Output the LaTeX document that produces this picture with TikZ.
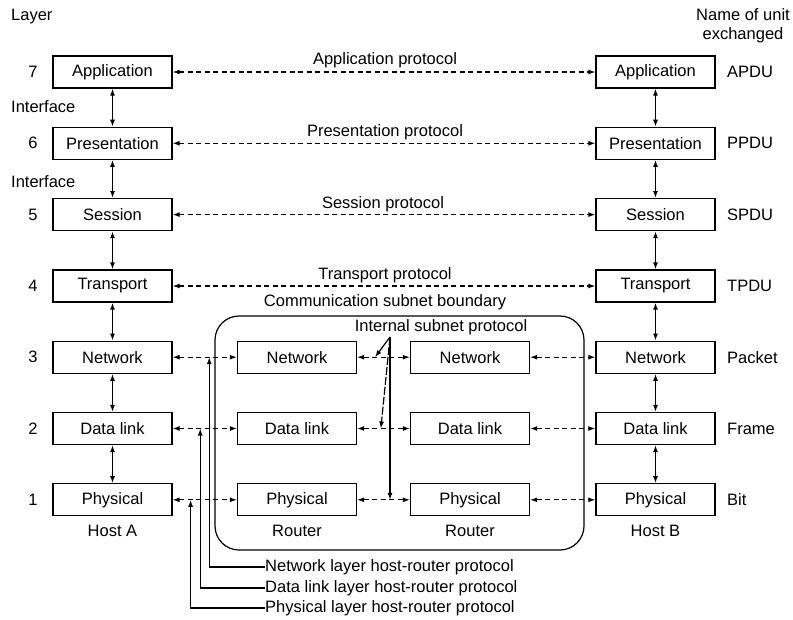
\documentclass[tikz,border=0pt]{standalone}
\usepackage{fontspec}
\setmainfont{Liberation Sans}
\usetikzlibrary{arrows.meta,calc}
\begin{document}
\begin{tikzpicture}[x=1pt,y=-1pt,
  font=\fontsize{16.5}{19}\selectfont,
  layerbox/.style={draw,line width=1.2pt,minimum width=119pt,minimum height=32pt,inner sep=0pt},
  tip/.style={-{Latex[length=7pt,width=5pt]}},
  dtip/.style={{Latex[length=7pt,width=5pt]}-{Latex[length=7pt,width=5pt]}},
  peer/.style={dtip,line width=1.2pt,dash pattern=on 5pt off 3.5pt},
  iface/.style={dtip,line width=1.5pt},
  lbl/.style={inner sep=0pt}]
\useasboundingbox (0,0) rectangle (793,619);
\def\ya{72}\def\yb{143.3}\def\yc{214.6}\def\yd{286}\def\ye{357.2}\def\yf{428.5}\def\yg{499.8}
% Host A
\node[layerbox] (a7) at (112.5,\ya) {Application};
\node[layerbox] (a6) at (112.5,\yb) {Presentation};
\node[layerbox] (a5) at (112.5,\yc) {Session};
\node[layerbox] (a4) at (112.5,\yd) {Transport};
\node[layerbox] (a3) at (112.5,\ye) {Network};
\node[layerbox] (a2) at (112.5,\yf) {Data link};
\node[layerbox] (a1) at (112.5,\yg) {Physical};
% Host B
\node[layerbox] (b7) at (655.5,\ya) {Application};
\node[layerbox] (b6) at (655.5,\yb) {Presentation};
\node[layerbox] (b5) at (655.5,\yc) {Session};
\node[layerbox] (b4) at (655.5,\yd) {Transport};
\node[layerbox] (b3) at (655.5,\ye) {Network};
\node[layerbox] (b2) at (655.5,\yf) {Data link};
\node[layerbox] (b1) at (655.5,\yg) {Physical};
% Routers
\node[layerbox] (r13) at (297,\ye) {Network};
\node[layerbox] (r12) at (297,\yf) {Data link};
\node[layerbox] (r11) at (297,\yg) {Physical};
\node[layerbox] (r23) at (470,\ye) {Network};
\node[layerbox] (r22) at (470,\yf) {Data link};
\node[layerbox] (r21) at (470,\yg) {Physical};
% subnet boundary
\draw[line width=1.2pt,rounded corners=24pt] (215,316) rectangle (584,550);
\node[lbl] (csb) at (385,302) {Communication subnet boundary};
% labels
\node[lbl,anchor=west] (layer) at (11,17) {Layer};
\node[lbl,align=center] (nou) at (743,26) {Name of unit\\exchanged};
\foreach \n/\y in {7/\ya,6/\yb,5/\yc,4/\yd,3/\ye,2/\yf,1/\yg}
  \node[lbl] (num\n) at (33,\y) {\n};
\node[lbl,anchor=west] (if1) at (11,107) {Interface};
\node[lbl,anchor=west] (if2) at (11,182) {Interface};
\foreach \n/\t/\y in {7/APDU/\ya,6/PPDU/\yb,5/SPDU/\yc,4/TPDU/\yd,3/Packet/\ye,2/Frame/\yf,1/Bit/\yg}
  \node[lbl,anchor=west] (u\n) at (727,\y) {\t};
\node[lbl] (hosta) at (112.5,531) {Host A};
\node[lbl] (hostb) at (655.5,531) {Host B};
\node[lbl] (rt1) at (297,531) {Router};
\node[lbl] (rt2) at (470,531) {Router};
% vertical interfaces
\foreach \u/\l in {7/6,6/5,5/4,4/3,3/2,2/1}{
  \draw[iface] (a\u.south) -- (a\l.north);
  \draw[iface] (b\u.south) -- (b\l.north);
}
% peer protocols
\draw[peer] (a7) -- (b7);
\draw[peer] (a6) -- (b6);
\draw[peer] (a5) -- (b5);
\draw[peer] (a4) -- (b4);
\node[lbl] (ap) at (385,60) {Application protocol};
\node[lbl] (pp) at (385,132) {Presentation protocol};
\node[lbl] (sp) at (383,204) {Session protocol};
\node[lbl] (tp) at (385,275) {Transport protocol};
\foreach \l in {3,2,1}{
  \draw[peer] (a\l) -- (r1\l);
  \draw[peer] (r1\l) -- (r2\l);
  \draw[peer] (r2\l) -- (b\l);
}
% internal subnet protocol
\node[lbl] (isp) at (441,327) {Internal subnet protocol};
\coordinate (apex) at (390,337);
\coordinate (in3) at ($(r13.east)!0.34!(r23.west)$);
\coordinate (in2) at ($(r12.east)!0.45!(r22.west)$);
\coordinate (in1) at ($(r11.east)!0.64!(r21.west)$);
\draw[tip,line width=1.2pt] (apex) -- (in3);
\draw[tip,line width=1.2pt,dash pattern=on 8pt off 2pt] (apex) -- (in2);
\draw[tip,line width=1.2pt] (apex) -- (apex|-in1);
% host-router leaders
\coordinate (hn) at ($(a3.east)!0.57!(r13.west)$);
\coordinate (hd) at ($(a2.east)!0.43!(r12.west)$);
\coordinate (hp) at ($(a1.east)!0.28!(r11.west)$);
\node[lbl,anchor=west] (ln) at (265,567) {Network layer host-router protocol};
\node[lbl,anchor=west] (ld) at (265,588) {Data link layer host-router protocol};
\node[lbl,anchor=west] (lp) at (265,608) {Physical layer host-router protocol};
\draw[tip,line width=1.2pt] (ln.west) -| (hn);
\draw[tip,line width=1.2pt] (ld.west) -| (hd);
\draw[tip,line width=1.2pt] (lp.west) -| (hp);
\end{tikzpicture}
\end{document}
